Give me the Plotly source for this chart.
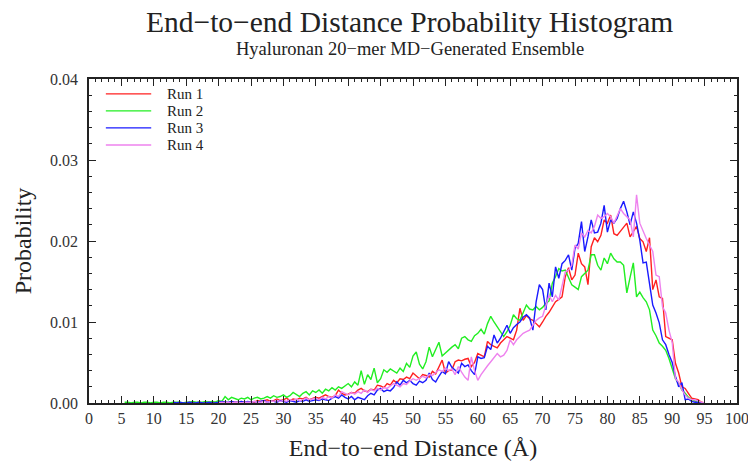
import plotly.graph_objects as go

# Distance bins (Å), 0.5 Å spacing from 5 to 95
distance = [5.0 + 0.5 * i for i in range(181)]

N = None
run1 = [
    N, N, N, N, N, N, N, N, N, N,
    N, N, N, N, N, N, N, N, N, N,
    0.0, 0.0001, 0.0, 0.0, 0.0001, 0.0, 0.0, 0.0001, 0.0, 0.0001,
    0.0, 0.0001, 0.0001, 0.0, 0.0002, 0.0001, 0.0001, 0.0002, 0.0001, 0.0001,
    0.0002, 0.0001, 0.0003, 0.0002, 0.0003, 0.0004, 0.0002, 0.0003, 0.0005, 0.0003,
    0.0004, 0.0006, 0.0003, 0.0005, 0.0004, 0.0006, 0.0005, 0.0007, 0.0004, 0.0006,
    0.0007, 0.0006, 0.0008, 0.0010, 0.0008, 0.0007, 0.0009, 0.0016, 0.0012, 0.0010,
    0.0011, 0.0013, 0.0012, 0.0016, 0.0018, 0.0015, 0.0014, 0.0017, 0.0016, 0.0022,
    0.0021, 0.0019, 0.0024, 0.0022, 0.0028, 0.0025, 0.0030, 0.0029, 0.0032, 0.0030,
    0.0037, 0.0033, 0.0030, 0.0035, 0.0034, 0.0032, 0.0039, 0.0036, 0.0045, 0.0053,
    0.0037, 0.0040, 0.0041, 0.0051, 0.0053, 0.0052, 0.0054, 0.0055, 0.0045, 0.0050,
    0.0061, 0.0059, 0.0057, 0.0076, 0.0072, 0.0070, 0.0068, 0.0074, 0.0078, 0.0082,
    0.0080, 0.0078, 0.0090, 0.0117, 0.0102, 0.0108, 0.0104, 0.0102, 0.0098, 0.0094,
    0.0100, 0.0107, 0.0112, 0.0118, 0.0125, 0.0128, 0.0131, 0.0156, 0.0167, 0.0152,
    0.0158, 0.0185, 0.0172, 0.0168, 0.0146, 0.0193, 0.0204, 0.0199, 0.0207, 0.0226,
    0.0222, 0.0232, 0.0209, 0.0207, 0.0212, 0.0218, 0.0222, 0.0205, 0.0212, 0.0218,
    0.0203, 0.0199, 0.0187, 0.0204, 0.0140, 0.0152, 0.0131, 0.0129, 0.0082, 0.0080,
    0.0078, 0.0049, 0.0037, 0.0020, 0.0018, 0.0012, 0.0006, 0.0005, 0.0004, 0.0001,
    0.0,
]
run2 = [
    N, 0.0001, 0.0001, 0.0, 0.0001, 0.0001, 0.0, 0.0001, 0.0001, 0.0,
    0.0001, 0.0001, 0.0, 0.0001, 0.0001, 0.0, 0.0001, 0.0001, 0.0001, 0.0,
    0.0001, 0.0001, 0.0002, 0.0001, 0.0001, 0.0001, 0.0002, 0.0001, 0.0002, 0.0001,
    0.0003, 0.0002, 0.0008, 0.0004, 0.0007, 0.0005, 0.0004, 0.0006, 0.0005, 0.0007,
    0.0004, 0.0006, 0.0007, 0.0005, 0.0006, 0.0008, 0.0006, 0.0009, 0.0007, 0.0008,
    0.0010, 0.0007, 0.0009, 0.0013, 0.0011, 0.0008, 0.0012, 0.0014, 0.0010, 0.0015,
    0.0013, 0.0016, 0.0012, 0.0017, 0.0015, 0.0019, 0.0016, 0.0020, 0.0018, 0.0021,
    0.0024, 0.0020, 0.0026, 0.0022, 0.0040, 0.0023, 0.0035, 0.0029, 0.0043, 0.0025,
    0.0030, 0.0041, 0.0038, 0.0042, 0.0040, 0.0037, 0.0043, 0.0039, 0.0049, 0.0044,
    0.0058, 0.0063, 0.0048, 0.0042, 0.0051, 0.0069, 0.0057, 0.0066, 0.0075, 0.0058,
    0.0062, 0.0066, 0.0069, 0.0072, 0.0067, 0.0080, 0.0082, 0.0078, 0.0076, 0.0083,
    0.0086, 0.0091, 0.0085, 0.0098, 0.0107, 0.0100, 0.0094, 0.0087, 0.0082, 0.0088,
    0.0096, 0.0109, 0.0104, 0.0102, 0.0112, 0.0121, 0.0116, 0.0115, 0.0119, 0.0115,
    0.0118, 0.0123, 0.0126, 0.0148, 0.0156, 0.0166, 0.0163, 0.0164, 0.0155, 0.0146,
    0.0143, 0.0140, 0.0156, 0.0160, 0.0164, 0.0183, 0.0183, 0.0170, 0.0164, 0.0179,
    0.0172, 0.0185, 0.0178, 0.0174, 0.0174, 0.0170, 0.0136, 0.0155, 0.0173, 0.0131,
    0.0137, 0.0130, 0.0125, 0.0115, 0.0090, 0.0083, 0.0074, 0.0070, 0.0065, 0.0055,
    0.0042, 0.0030, 0.0024, 0.0016, 0.0012, 0.0007, 0.0004, 0.0002, 0.0001, 0.0,
    0.0,
]
run3 = [
    N, N, N, N, N, N, N, N, N, N,
    N, N, N, N, N, N, 0.0001, 0.0, 0.0001, 0.0,
    0.0, 0.0001, 0.0, 0.0, 0.0001, 0.0, 0.0, 0.0001, 0.0, 0.0,
    0.0001, 0.0002, 0.0001, 0.0001, 0.0002, 0.0001, 0.0001, 0.0002, 0.0001, 0.0002,
    0.0001, 0.0002, 0.0001, 0.0002, 0.0003, 0.0001, 0.0002, 0.0002, 0.0001, 0.0003,
    0.0002, 0.0001, 0.0003, 0.0002, 0.0001, 0.0003, 0.0002, 0.0004, 0.0002, 0.0003,
    0.0004, 0.0003, 0.0005, 0.0004, 0.0003, 0.0006, 0.0008, 0.0006, 0.0010, 0.0007,
    0.0005, 0.0008, 0.0004, 0.0007, 0.0005, 0.0004, 0.0009, 0.0012, 0.0010, 0.0016,
    0.0018, 0.0014, 0.0016, 0.0015, 0.0019, 0.0026, 0.0022, 0.0028, 0.0025, 0.0028,
    0.0024, 0.0022, 0.0027, 0.0025, 0.0028, 0.0037, 0.0029, 0.0026, 0.0033, 0.0039,
    0.0036, 0.0051, 0.0044, 0.0040, 0.0037, 0.0049, 0.0045, 0.0047, 0.0040, 0.0035,
    0.0057, 0.0055, 0.0056, 0.0070, 0.0066, 0.0084, 0.0074, 0.0080, 0.0088, 0.0096,
    0.0086, 0.0093, 0.0097, 0.0100, 0.0106, 0.0109, 0.0105, 0.0090, 0.0125, 0.0146,
    0.0140, 0.0115, 0.0148, 0.0131, 0.0168, 0.0154, 0.0172, 0.0176, 0.0183, 0.0164,
    0.0191, 0.0197, 0.0224, 0.0187, 0.0205, 0.0226, 0.0210, 0.0211, 0.0222, 0.0244,
    0.0211, 0.0226, 0.0222, 0.0228, 0.0240, 0.0249, 0.0236, 0.0220, 0.0236, 0.0222,
    0.0201, 0.0173, 0.0174, 0.0148, 0.0121, 0.0111, 0.0099, 0.0078, 0.0072, 0.0060,
    0.0050, 0.0033, 0.0020, 0.0025, 0.0004, 0.0005, 0.0002, 0.0001, 0.0001, 0.0,
    0.0,
]
run4 = [
    N, N, N, N, N, N, N, N, N, N,
    N, N, N, N, N, N, N, N, N, N,
    N, N, N, N, N, N, N, N, N, N,
    0.0, 0.0001, 0.0, 0.0001, 0.0, 0.0001, 0.0001, 0.0, 0.0001, 0.0001,
    0.0001, 0.0002, 0.0001, 0.0001, 0.0002, 0.0001, 0.0002, 0.0002, 0.0003, 0.0002,
    0.0003, 0.0002, 0.0004, 0.0003, 0.0005, 0.0003, 0.0004, 0.0006, 0.0004, 0.0005,
    0.0006, 0.0004, 0.0007, 0.0005, 0.0008, 0.0006, 0.0010, 0.0008, 0.0014, 0.0012,
    0.0010, 0.0013, 0.0011, 0.0014, 0.0012, 0.0016, 0.0013, 0.0017, 0.0015, 0.0018,
    0.0016, 0.0019, 0.0018, 0.0021, 0.0024, 0.0022, 0.0020, 0.0024, 0.0023, 0.0027,
    0.0030, 0.0028, 0.0030, 0.0033, 0.0031, 0.0035, 0.0034, 0.0038, 0.0041, 0.0039,
    0.0043, 0.0040, 0.0042, 0.0035, 0.0045, 0.0038, 0.0032, 0.0028, 0.0057, 0.0040,
    0.0028, 0.0035, 0.0041, 0.0046, 0.0051, 0.0056, 0.0061, 0.0057, 0.0059, 0.0065,
    0.0078, 0.0072, 0.0078, 0.0082, 0.0086, 0.0088, 0.0090, 0.0096, 0.0102, 0.0105,
    0.0107, 0.0120, 0.0133, 0.0125, 0.0133, 0.0127, 0.0144, 0.0162, 0.0164, 0.0170,
    0.0195, 0.0190, 0.0210, 0.0205, 0.0213, 0.0210, 0.0218, 0.0232, 0.0228, 0.0230,
    0.0234, 0.0230, 0.0222, 0.0232, 0.0240, 0.0234, 0.0230, 0.0226, 0.0205, 0.0257,
    0.0222, 0.0212, 0.0203, 0.0195, 0.0187, 0.0158, 0.0156, 0.0119, 0.0111, 0.0090,
    0.0075, 0.0030, 0.0026, 0.0016, 0.0010, 0.0006, 0.0004, 0.0004, 0.0002, 0.0001,
    0.0,
]

series_names = ["Run 1", "Run 2", "Run 3", "Run 4"]
series_values = [run1, run2, run3, run4]
series_colors = ["#ff2020", "#22ee22", "#1a1aff", "#ee82ee"]

x_ticks = list(range(0, 101, 5))
y_ticks = [0.0, 0.01, 0.02, 0.03, 0.04]

title_text = "End\u2212to\u2212end Distance Probability Histogram"
subtitle_text = "Hyaluronan 20\u2212mer MD\u2212Generated Ensemble"
x_title = "End\u2212to\u2212end Distance (\u00c5)"
y_title = "Probability"

FONT = "Liberation Serif"
INK = "#222222"

fig = go.Figure()
for name, vals, col in zip(series_names, series_values, series_colors):
    fig.add_trace(go.Scatter(x=distance, y=vals, mode="lines", name=name,
                             line=dict(color=col, width=1.4), connectgaps=False,
                             showlegend=False))

axis_common = dict(
    showline=True, linecolor=INK, linewidth=1.5, mirror="ticks",
    ticks="inside", tickcolor=INK, tickwidth=1.2, automargin=False,
    showgrid=False, zeroline=False, ticklabeloverflow="allow",
    tickfont=dict(family=FONT, size=16, color="#333333"),
)

fig.update_xaxes(
    range=[0, 100], tickvals=x_ticks, ticklen=7,
    minor=dict(ticks="inside", dtick=1, ticklen=3, tickcolor=INK, showgrid=False),
    title=dict(text=x_title, font=dict(family=FONT, size=24, color=INK), standoff=14),
    **axis_common,
)
fig.update_yaxes(
    range=[0, 0.04], tickvals=y_ticks, tickformat=".2f", ticklen=7, ticklabelstandoff=6,
    minor=dict(ticks="inside", dtick=0.002, ticklen=3, tickcolor=INK, showgrid=False),
    title=dict(text=y_title, font=dict(family=FONT, size=24, color=INK), standoff=12),
    **axis_common,
)

annotations = [
    dict(text=title_text, xref="paper", yref="paper", x=0.495, y=1.176,
         xanchor="center", yanchor="middle", showarrow=False,
         font=dict(family=FONT, size=29.5, color=INK)),
    dict(text=subtitle_text, xref="paper", yref="paper", x=0.495, y=1.094,
         xanchor="center", yanchor="middle", showarrow=False,
         font=dict(family=FONT, size=18.5, color=INK)),
]

# Manual legend (key lines + labels) in the upper-left corner of the plot
shapes = []
leg_y0, leg_step = 0.954, 0.0525
for i, (name, col) in enumerate(zip(series_names, series_colors)):
    yy = leg_y0 - i * leg_step
    shapes.append(dict(type="line", xref="paper", yref="paper",
                       x0=0.026, x1=0.096, y0=yy, y1=yy,
                       line=dict(color=col, width=1.4)))
    annotations.append(dict(text=name, xref="paper", yref="paper", x=0.118, y=yy,
                            xanchor="left", yanchor="middle", showarrow=False,
                            font=dict(family=FONT, size=15, color=INK)))

fig.update_layout(
    width=748, height=461,
    margin=dict(l=89, r=11, t=79, b=58),
    paper_bgcolor="white", plot_bgcolor="white",
    font=dict(family=FONT, color=INK),
    annotations=annotations, shapes=shapes,
    showlegend=False,
)

fig.write_html("out.html")
